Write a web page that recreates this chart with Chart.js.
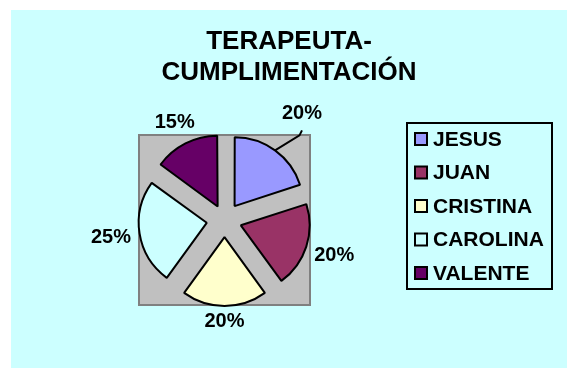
<!DOCTYPE html>
<html>
<head>
<meta charset="utf-8">
<script src="https://cdn.jsdelivr.net/npm/chart.js@4/dist/chart.umd.min.js"></script>
<style>
  html, body { margin: 0; padding: 0; background: #fff; }
  #wrap { width: 567px; height: 368px; }
</style>
</head>
<body>
<div id="wrap"><canvas id="pie" width="567" height="368"></canvas></div>
<script>
/* ---------- Data ---------- */
const names = ['JESUS', 'JUAN', 'CRISTINA', 'CAROLINA', 'VALENTE'];
const shares = [20, 20, 20, 25, 15];
const titleLines = ['TERAPEUTA-', 'CUMPLIMENTACIÓN'];

/* ---------- Styles ---------- */
const sliceColors = ['#9999FF', '#993366', '#FFFFCC', '#CCFFFF', '#660066'];
const FONT = "'Liberation Sans', Arial, sans-serif";
const BG = '#CCFFFF';

// explosion: arc translation = offset/4 * (1 + (1 - sin(angle))) -> ~18px for every slice
function explodeOffset(v, total) {
  const ang = Math.min(Math.PI, v / total * Math.PI * 2);
  return 18 * 4 / (2 - Math.sin(ang));
}
const total = shares.reduce((a, b) => a + b, 0);

/* ---------- Painting plugin ---------- */
const excelLook = {
  id: 'excelLook',
  beforeDraw(chart) {
    const { ctx, chartArea: a } = chart;
    ctx.save();
    ctx.fillStyle = '#fff';
    ctx.fillRect(0, 0, chart.width, chart.height);
    ctx.fillStyle = BG;
    ctx.fillRect(11, 10, 556, 358);
    // plot area
    ctx.fillStyle = '#C0C0C0';
    ctx.fillRect(a.left, a.top, a.right - a.left, a.bottom - a.top);
    ctx.strokeStyle = '#808080';
    ctx.lineWidth = 2;
    ctx.strokeRect(a.left, a.top, a.right - a.left, a.bottom - a.top);
    ctx.restore();
  },
  afterDraw(chart) {
    const { ctx } = chart;
    ctx.save();
    ctx.fillStyle = '#000';
    ctx.textAlign = 'center';
    ctx.textBaseline = 'middle';

    // title
    ctx.font = 'bold 26px ' + FONT;
    titleLines.forEach((t, i) => ctx.fillText(t, 289, 42 + i * 31));

    // percentage labels
    ctx.font = 'bold 20px ' + FONT;
    const meta = chart.getDatasetMeta(0);
    meta.data.forEach((arc, i) => {
      const p = arc.getProps(['x', 'y', 'startAngle', 'endAngle', 'outerRadius', 'circumference']);
      const mid = (p.startAngle + p.endAngle) / 2;
      const off = arc.options.offset / 4 * (2 - Math.sin(Math.min(Math.PI, p.circumference)));
      const dx = Math.cos(mid), dy = Math.sin(mid);
      const txt = Math.round(chart.data.datasets[0].data[i] / total * 100) + '%';
      const hw = ctx.measureText(txt).width / 2, hh = 7.5;
      let dist = off + p.outerRadius + 8 + Math.abs(hw * dx) + Math.abs(hh * dy);
      if (i === 0) dist += 20;
      const lx = p.x + dx * dist, ly = p.y + dy * dist;
      ctx.fillText(txt, lx, ly);
      if (i === 0) {
        // leader line to the slice edge
        const ex = p.x + dx * (off + p.outerRadius), ey = p.y + dy * (off + p.outerRadius);
        ctx.strokeStyle = '#000';
        ctx.lineWidth = 2;
        ctx.beginPath();
        ctx.moveTo(lx, ly + 17);
        ctx.lineTo(lx - 2.5, ly + 22);
        ctx.lineTo(ex, ey);
        ctx.stroke();
      }
    });

    // legend
    ctx.strokeStyle = '#000';
    ctx.lineWidth = 2;
    ctx.strokeRect(407, 123, 145, 166);
    ctx.font = 'bold 21px ' + FONT;
    ctx.textAlign = 'left';
    names.forEach((n, i) => {
      const y = 139 + i * 33.5;
      ctx.fillStyle = sliceColors[i];
      ctx.fillRect(415, y - 6, 12, 12);
      ctx.strokeRect(415, y - 6, 12, 12);
      ctx.fillStyle = '#000';
      ctx.fillText(n, 433, y + 1);
    });
    ctx.restore();
  }
};

/* ---------- Chart ---------- */
new Chart(document.getElementById('pie'), {
  type: 'pie',
  data: {
    labels: names,
    datasets: [{
      data: shares,
      backgroundColor: sliceColors,
      borderColor: '#000',
      borderWidth: 2,
      offset: shares.map(v => explodeOffset(v, total)),
      radius: 68
    }]
  },
  options: {
    responsive: false,
    animation: false,
    radius: 68,
    layout: { padding: { left: 139, right: 257, top: 135, bottom: 63 } },
    plugins: {
      legend: { display: false },
      title: { display: false },
      tooltip: { enabled: false }
    }
  },
  plugins: [excelLook]
});
</script>
</body>
</html>
